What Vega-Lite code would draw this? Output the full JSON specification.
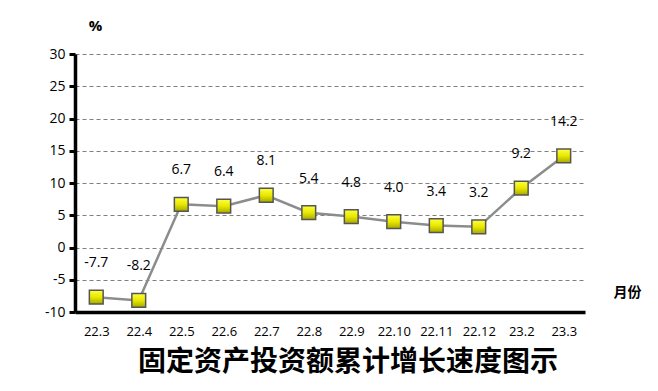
{
  "$schema": "https://vega.github.io/schema/vega-lite/v6.json",
  "width": 510,
  "height": 258,
  "autosize": {"type": "none"},
  "padding": {"left": 75, "top": 54, "right": 73, "bottom": 79},
  "background": "white",
  "config": {
    "view": {"stroke": null},
    "locale": {
      "number": {
        "decimal": ".",
        "thousands": ",",
        "grouping": [3],
        "currency": ["", ""],
        "minus": "-"
      }
    }
  },
  "title": {
    "text": "固定资产投资额累计增长速度图示",
    "orient": "bottom",
    "anchor": "middle",
    "font": "Noto Sans CJK SC",
    "fontSize": 28,
    "fontWeight": "bold",
    "color": "#000000",
    "offset": 11,
    "dx": 18
  },
  "data": {
    "values": [
      {"month": "22.3", "value": -7.7},
      {"month": "22.4", "value": -8.2},
      {"month": "22.5", "value": 6.7},
      {"month": "22.6", "value": 6.4},
      {"month": "22.7", "value": 8.1},
      {"month": "22.8", "value": 5.4},
      {"month": "22.9", "value": 4.8},
      {"month": "22.10", "value": 4.0},
      {"month": "22.11", "value": 3.4},
      {"month": "22.12", "value": 3.2},
      {"month": "23.2", "value": 9.2},
      {"month": "23.3", "value": 14.2}
    ]
  },
  "encoding": {
    "x": {
      "field": "month",
      "type": "ordinal",
      "sort": null,
      "scale": {"type": "point", "padding": 0.5},
      "axis": {
        "title": "月份",
        "titleFont": "Noto Sans CJK SC",
        "titleFontSize": 14,
        "titleFontWeight": "bold",
        "titleColor": "#000000",
        "titleX": 552,
        "titleY": -20,
        "titleAnchor": "middle",
        "titleBaseline": "middle",
        "labelAngle": 0,
        "labelFont": "Open Sans",
        "labelFontSize": 13,
        "labelColor": "#000000",
        "labelPadding": 13,
        "ticks": false,
        "domainColor": "#000000",
        "domainWidth": 3.5,
        "grid": false
      }
    },
    "y": {
      "field": "value",
      "type": "quantitative",
      "scale": {"domain": [-10, 30], "nice": false, "zero": false},
      "axis": {
        "values": [-10, -5, 0, 5, 10, 15, 20, 25, 30],
        "title": "%",
        "titleAngle": 0,
        "titleX": 20,
        "titleY": -29,
        "titleAlign": "center",
        "titleBaseline": "middle",
        "titleFont": "Open Sans",
        "titleFontSize": 15,
        "titleFontWeight": "bold",
        "titleColor": "#000000",
        "labelFont": "Open Sans",
        "labelFontSize": 14,
        "labelColor": "#000000",
        "labelPadding": 4,
        "tickSize": 6,
        "tickWidth": 3,
        "tickColor": "#000000",
        "domainColor": "#000000",
        "domainWidth": 3.5,
        "grid": true,
        "gridColor": "#808080",
        "gridDash": [4, 3],
        "gridWidth": 1
      }
    }
  },
  "layer": [
    {
      "mark": {"type": "line", "color": "#8c8c8c", "strokeWidth": 2.5}
    },
    {
      "mark": {
        "type": "point",
        "shape": "square",
        "size": 190,
        "filled": true,
        "opacity": 1,
        "fill": {
          "gradient": "linear",
          "x1": 0, "y1": 0, "x2": 0, "y2": 1,
          "stops": [
            {"offset": 0, "color": "#ffff40"},
            {"offset": 0.5, "color": "#e8e800"},
            {"offset": 1, "color": "#a8a800"}
          ]
        },
        "stroke": "#555555",
        "strokeWidth": 1.5
      }
    },
    {
      "mark": {
        "type": "text",
        "dy": -34,
        "font": "Open Sans",
        "fontSize": 14,
        "color": "#000000"
      },
      "encoding": {
        "text": {"field": "value", "type": "quantitative", "format": ".1f"}
      }
    }
  ]
}
